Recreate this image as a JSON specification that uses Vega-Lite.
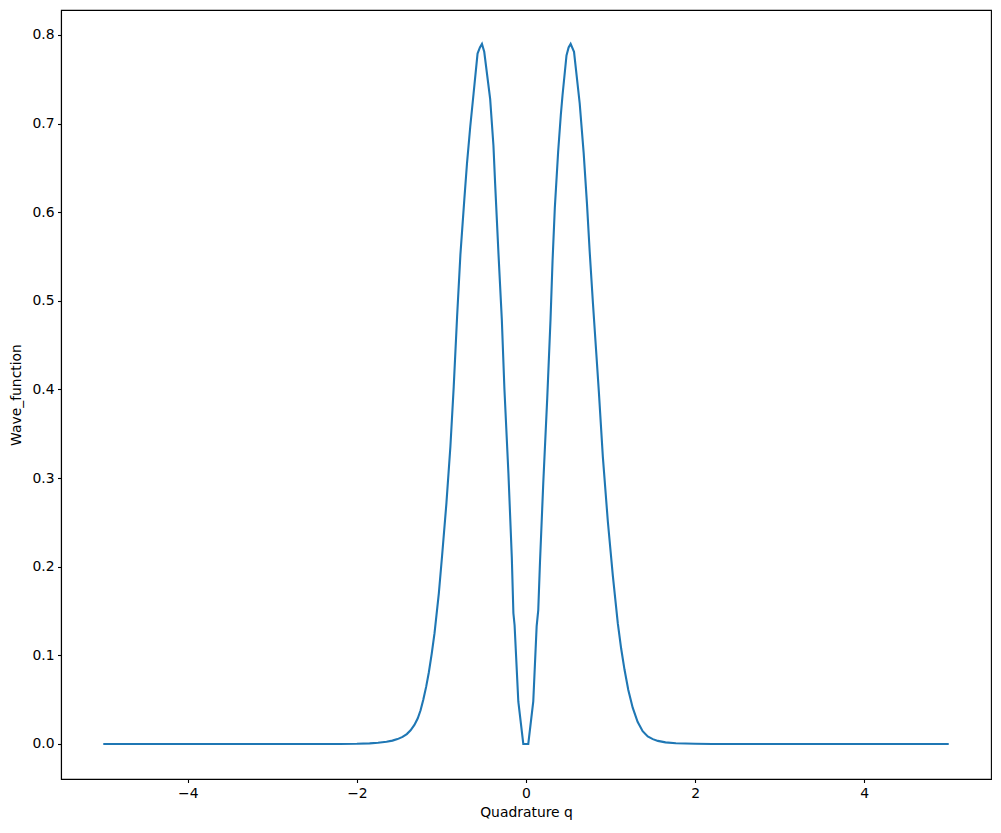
{
  "$schema": "https://vega.github.io/schema/vega-lite/v6.json",
  "width": 930,
  "height": 769,
  "autosize": {"type": "none"},
  "padding": {"left": 61, "top": 10, "right": 10, "bottom": 54},
  "background": "white",
  "config": {
    "view": {"stroke": "black", "strokeWidth": 1.1},
    "font": "DejaVu Sans",
    "axis": {
      "domainColor": "black",
      "domainWidth": 1.1,
      "tickColor": "black",
      "tickWidth": 1.1,
      "tickSize": 3.5,
      "labelPadding": 3.5,
      "labelColor": "black",
      "labelFont": "DejaVu Sans",
      "labelFontSize": 13.9,
      "titleFont": "DejaVu Sans",
      "titleFontSize": 13.9,
      "titleFontWeight": "normal",
      "titleColor": "black",
      "grid": false
    }
  },
  "data": {
    "values": [
      {"q": -5.0, "psi": 0},
      {"q": -3.0, "psi": 0},
      {"q": -2.2, "psi": 0.0},
      {"q": -2.0, "psi": 0.0002},
      {"q": -1.85, "psi": 0.0007},
      {"q": -1.75, "psi": 0.0014},
      {"q": -1.65, "psi": 0.0026},
      {"q": -1.58, "psi": 0.0038},
      {"q": -1.52, "psi": 0.0055},
      {"q": -1.46, "psi": 0.008},
      {"q": -1.41, "psi": 0.0112},
      {"q": -1.365, "psi": 0.0155},
      {"q": -1.32, "psi": 0.0215},
      {"q": -1.28, "psi": 0.029},
      {"q": -1.247, "psi": 0.038},
      {"q": -1.215, "psi": 0.05},
      {"q": -1.18, "psi": 0.065},
      {"q": -1.149, "psi": 0.081},
      {"q": -1.115, "psi": 0.102},
      {"q": -1.082, "psi": 0.125},
      {"q": -1.031, "psi": 0.17},
      {"q": -0.992, "psi": 0.213},
      {"q": -0.941, "psi": 0.272},
      {"q": -0.894, "psi": 0.336},
      {"q": -0.855, "psi": 0.403},
      {"q": -0.815, "psi": 0.482},
      {"q": -0.776, "psi": 0.552},
      {"q": -0.729, "psi": 0.615},
      {"q": -0.698, "psi": 0.655},
      {"q": -0.659, "psi": 0.697},
      {"q": -0.62, "psi": 0.734},
      {"q": -0.573, "psi": 0.779},
      {"q": -0.545, "psi": 0.786},
      {"q": -0.521, "psi": 0.79},
      {"q": -0.494, "psi": 0.781},
      {"q": -0.424, "psi": 0.728},
      {"q": -0.385, "psi": 0.675},
      {"q": -0.365, "psi": 0.632},
      {"q": -0.326, "psi": 0.554},
      {"q": -0.286, "psi": 0.479},
      {"q": -0.255, "psi": 0.4},
      {"q": -0.208, "psi": 0.3055},
      {"q": -0.168, "psi": 0.211},
      {"q": -0.149, "psi": 0.1475},
      {"q": -0.135, "psi": 0.134},
      {"q": -0.091, "psi": 0.048},
      {"q": -0.032, "psi": 0.0},
      {"q": 0.027, "psi": 0.0},
      {"q": 0.086, "psi": 0.048},
      {"q": 0.126, "psi": 0.133},
      {"q": 0.145, "psi": 0.151},
      {"q": 0.165, "psi": 0.204},
      {"q": 0.204, "psi": 0.294},
      {"q": 0.251, "psi": 0.39},
      {"q": 0.29, "psi": 0.479},
      {"q": 0.314, "psi": 0.545},
      {"q": 0.341, "psi": 0.605},
      {"q": 0.38, "psi": 0.668},
      {"q": 0.412, "psi": 0.71},
      {"q": 0.432, "psi": 0.732},
      {"q": 0.479, "psi": 0.777},
      {"q": 0.504, "psi": 0.786},
      {"q": 0.528, "psi": 0.79},
      {"q": 0.568, "psi": 0.781},
      {"q": 0.635, "psi": 0.723},
      {"q": 0.682, "psi": 0.667},
      {"q": 0.721, "psi": 0.61},
      {"q": 0.753, "psi": 0.556},
      {"q": 0.792, "psi": 0.497},
      {"q": 0.832, "psi": 0.44},
      {"q": 0.862, "psi": 0.397},
      {"q": 0.909, "psi": 0.324},
      {"q": 0.968, "psi": 0.251},
      {"q": 1.027, "psi": 0.19},
      {"q": 1.086, "psi": 0.136},
      {"q": 1.125, "psi": 0.108},
      {"q": 1.165, "psi": 0.084},
      {"q": 1.21, "psi": 0.061},
      {"q": 1.262, "psi": 0.041},
      {"q": 1.32, "psi": 0.025},
      {"q": 1.38, "psi": 0.0145},
      {"q": 1.44, "psi": 0.0085},
      {"q": 1.5, "psi": 0.0055},
      {"q": 1.56, "psi": 0.0035},
      {"q": 1.65, "psi": 0.0018},
      {"q": 1.773, "psi": 0.0008},
      {"q": 2.0, "psi": 0.0002},
      {"q": 2.2, "psi": 0.0},
      {"q": 3.0, "psi": 0.0},
      {"q": 5.0, "psi": 0.0}
    ]
  },
  "mark": {"type": "line", "color": "#1f77b4", "strokeWidth": 2.1, "clip": true},
  "encoding": {
    "x": {
      "field": "q",
      "type": "quantitative",
      "scale": {"domain": [-5.5, 5.5], "nice": false, "zero": false},
      "axis": {"values": [-4, -2, 0, 2, 4], "format": "d", "title": "Quadrature q", "titlePadding": 6}
    },
    "y": {
      "field": "psi",
      "type": "quantitative",
      "scale": {"domain": [-0.0395, 0.8282], "nice": false, "zero": false},
      "axis": {"values": [0, 0.1, 0.2, 0.3, 0.4, 0.5, 0.6, 0.7, 0.8], "format": ".1f", "title": "Wave_function", "titlePadding": 8}
    },
    "order": {"field": "q", "type": "quantitative"}
  }
}
